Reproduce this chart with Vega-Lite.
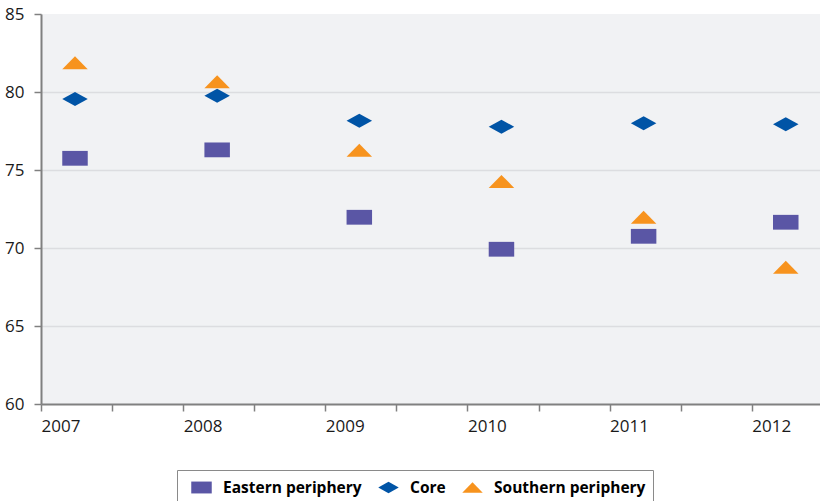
{
  "$schema": "https://vega.github.io/schema/vega-lite/v6.json",
  "autosize": "none",
  "width": 779,
  "height": 390,
  "padding": {"left": 41, "top": 14, "right": 0, "bottom": 97},
  "background": "white",
  "config": {
    "view": {"fill": "#f1f2f4", "stroke": null},
    "font": "Open Sans",
    "axis": {
      "labelFont": "Open Sans",
      "labelFontSize": 17,
      "labelColor": "#1a1a1a",
      "domainColor": "#808080",
      "domainWidth": 2,
      "tickColor": "#808080",
      "tickWidth": 1.5,
      "tickSize": 7,
      "title": null
    }
  },
  "data": {
    "values": [
      {"year": 2007, "series": "Eastern periphery", "value": 75.75},
      {"year": 2008, "series": "Eastern periphery", "value": 76.29},
      {"year": 2009, "series": "Eastern periphery", "value": 71.97},
      {"year": 2010, "series": "Eastern periphery", "value": 69.92},
      {"year": 2011, "series": "Eastern periphery", "value": 70.75},
      {"year": 2012, "series": "Eastern periphery", "value": 71.65},
      {"year": 2007, "series": "Core", "value": 79.55},
      {"year": 2008, "series": "Core", "value": 79.76},
      {"year": 2009, "series": "Core", "value": 78.16},
      {"year": 2010, "series": "Core", "value": 77.77},
      {"year": 2011, "series": "Core", "value": 77.99},
      {"year": 2012, "series": "Core", "value": 77.94},
      {"year": 2007, "series": "Southern periphery", "value": 81.87},
      {"year": 2008, "series": "Southern periphery", "value": 80.66},
      {"year": 2009, "series": "Southern periphery", "value": 76.26},
      {"year": 2010, "series": "Southern periphery", "value": 74.27},
      {"year": 2011, "series": "Southern periphery", "value": 71.97},
      {"year": 2012, "series": "Southern periphery", "value": 68.76}
    ]
  },
  "mark": {"type": "point", "filled": true, "opacity": 1, "strokeWidth": 0, "size": 650, "xOffset": 34},
  "encoding": {
    "x": {
      "field": "year",
      "type": "quantitative",
      "scale": {"domain": [2007, 2012.48], "nice": false, "zero": false},
      "axis": {
        "values": [2007, 2007.5, 2008, 2008.5, 2009, 2009.5, 2010, 2010.5, 2011, 2011.5, 2012],
        "labelExpr": "datum.value % 1 === 0 ? format(datum.value, 'd') : ''",
        "labelAlign": "left",
        "labelFlush": false,
        "labelPadding": 7,
        "grid": false
      }
    },
    "y": {
      "field": "value",
      "type": "quantitative",
      "scale": {"domain": [60, 85], "nice": false, "zero": false},
      "axis": {
        "values": [60, 65, 70, 75, 80, 85],
        "labelPadding": 10,
        "grid": true,
        "gridColor": "#dcdde0",
        "gridWidth": 1.5,
        "gridOpacity": {"condition": {"test": "datum.value == 85 || datum.value == 60", "value": 0}, "value": 1}
      }
    },
    "color": {
      "field": "series",
      "type": "nominal",
      "scale": {
        "domain": ["Eastern periphery", "Core", "Southern periphery"],
        "range": ["#5a56a5", "#0054a6", "#f7931e"]
      },
      "legend": {
        "title": null,
        "orient": "none",
        "direction": "horizontal",
        "legendX": 136,
        "legendY": 456,
        "strokeColor": "#8a8a8a",
        "padding": 7,
        "symbolOffset": 7,
        "symbolSize": 420,
        "symbolStrokeWidth": 0,
        "labelFont": "Open Sans",
        "labelFontSize": 15.5,
        "labelFontWeight": "bold",
        "labelOffset": 11,
        "columnPadding": 9,
        "encode": {"labels": {"update": {"fill": {"scale": "color", "field": "value"}}}}
      }
    },
    "shape": {
      "field": "series",
      "type": "nominal",
      "scale": {
        "domain": ["Eastern periphery", "Core", "Southern periphery"],
        "range": ["M-1,-0.58L1,-0.58L1,0.58L-1,0.58Z", "M-1,0L0,-0.55L1,0L0,0.55Z", "M-1,0.51L0,-0.51L1,0.51Z"]
      },
      "legend": {
        "title": null,
        "orient": "none",
        "direction": "horizontal",
        "legendX": 136,
        "legendY": 456,
        "strokeColor": "#8a8a8a",
        "padding": 7,
        "symbolOffset": 7,
        "symbolSize": 420,
        "symbolStrokeWidth": 0,
        "labelFont": "Open Sans",
        "labelFontSize": 15.5,
        "labelFontWeight": "bold",
        "labelOffset": 11,
        "columnPadding": 9,
        "encode": {"labels": {"update": {"fill": {"scale": "color", "field": "value"}}}}
      }
    }
  }
}
